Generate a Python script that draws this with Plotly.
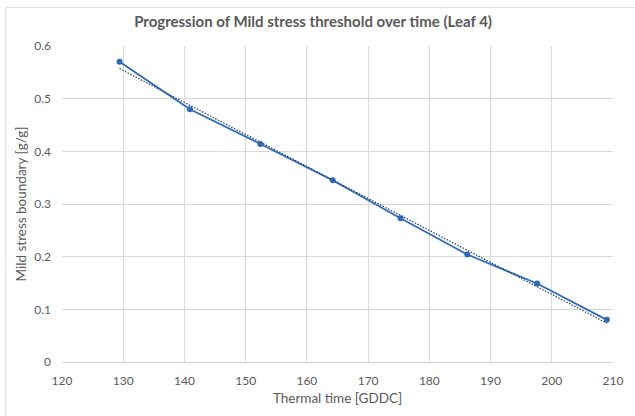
import numpy as np
import plotly.graph_objects as go

# Thermal time [GDDC] and mild stress boundary [g/g]
thermal_time = [129.4, 140.9, 152.4, 164.2, 175.3, 186.2, 197.6, 209.0]
stress_boundary = [0.570, 0.480, 0.414, 0.345, 0.273, 0.204, 0.149, 0.080]
x_ticks = [120, 130, 140, 150, 160, 170, 180, 190, 200, 210]
y_ticks = [0, 0.1, 0.2, 0.3, 0.4, 0.5, 0.6]

FONT = "Lato, 'Open Sans', sans-serif"
GREY = "#595959"
BLUE = "#2f6ab8"

# linear trendline from the data
slope, intercept = np.polyfit(thermal_time, stress_boundary, 1)
fit_x = [thermal_time[0], thermal_time[-1]]
fit_y = [slope * v + intercept for v in fit_x]

fig = go.Figure()
fig.add_trace(go.Scatter(
    x=thermal_time, y=stress_boundary,
    mode="lines+markers",
    line=dict(color=BLUE, width=1.8),
    marker=dict(color=BLUE, size=6),
    showlegend=False,
))
fig.add_trace(go.Scatter(
    x=fit_x, y=fit_y,
    mode="lines",
    line=dict(color="#1f3f73", width=1.2, dash="1.5px,1.5px"),
    showlegend=False,
))

fig.add_annotation(
    x=441, y=193, xref="x", yref="y",
    text="y = -0.0061x + 1.343<br>R<sup>2</sup> = 0.998",
    showarrow=False, font=dict(family=FONT, size=11, color=GREY),
    align="center",
)

axis_common = dict(
    showgrid=True, gridcolor="#d9d9d9", gridwidth=1,
    zeroline=False, ticks="", tickfont=dict(family=FONT, size=12, color=GREY),
    title_font=dict(family=FONT, size=13.5, color=GREY),
)

fig.update_xaxes(
    range=[120, 210], tickvals=x_ticks, title_text="Thermal time [GDDC]",
    showline=True, linecolor="#d9d9d9", mirror=False, title_standoff=6,
    ticklabelstandoff=8,
    **axis_common,
)
fig.update_yaxes(
    range=[0, 0.6], tickvals=y_ticks, ticktext=[str(t) for t in y_ticks],
    title_text="Mild stress boundary [g/g]", title_standoff=4,
    ticklabelstandoff=10,
    **axis_common,
)

fig.update_layout(
    width=635, height=416,
    margin=dict(l=62, r=13, t=46, b=51),
    paper_bgcolor="white", plot_bgcolor="white",
    title=dict(
        text="<b>Progression of Mild stress threshold over time (Leaf 4)</b>",
        x=0.493, xanchor="center", y=0.947, yanchor="middle",
        font=dict(family=FONT, size=15, color=GREY),
    ),
    shapes=[dict(
        type="rect", xref="paper", yref="paper",
        x0=-0.1018, x1=1.1, y0=-0.2, y1=1.1223,
        line=dict(color="#d9d9d9", width=1), fillcolor="rgba(0,0,0,0)",
        layer="above",
    )],
)

fig.write_html(
    "out.html",
    config={"displayModeBar": False},
    post_script="document.body.style.margin='0';",
)
